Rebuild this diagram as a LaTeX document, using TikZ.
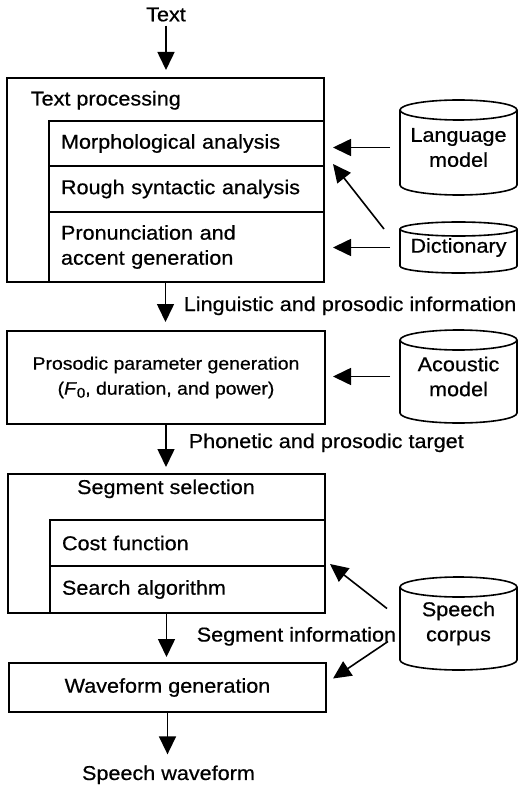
\documentclass[tikz,border=0pt]{standalone}
\usepackage{fontspec}
\setmainfont{Liberation Sans}[FakeStretch=1.08, FakeBold=0.6]
\usetikzlibrary{arrows.meta, positioning}

\begin{document}
\begin{tikzpicture}[x=1pt, y=-1pt, line width=1.6pt,
    font=\fontsize{20}{25}\selectfont,
    box/.style={draw, rectangle, anchor=north west, inner sep=0pt, outer sep=0pt},
    row/.style={box, minimum width=275pt, text width=251pt, inner xsep=12pt, align=left},
    db/.style={rectangle, inner sep=0pt, outer sep=0pt, minimum width=117pt, align=center},
    lbl/.style={anchor=base west, inner sep=0pt},
    flow/.style={-{Triangle[length=18pt,width=17pt]}}]
    \useasboundingbox (0,0) rectangle (518,786);

    % Text processing block
    \node (txt) at (166,14.5) {Text};
    \node[box, minimum width=317pt, minimum height=204pt] (tp) at (7,78) {};
    \node[lbl] (tpl) at (30,105.5) {Text processing};
    \node[row, minimum height=45pt] (ma) at (49,121) {Morphological analysis};
    \node[row, minimum height=46pt] (rsa) at (49,166) {Rough syntactic analysis};
    \node[row, minimum height=70pt] (pag) at (49,212) {Pronunciation and\\accent generation};

    % Prosody block
    \node[box, minimum width=318pt, minimum height=93pt, align=center,
          font=\fontsize{18}{25}\selectfont] (pp) at (7,331)
          {Prosodic parameter generation\\(\textit{F}\raisebox{-3pt}{\fontsize{14}{14}\selectfont 0}, duration, and power)};

    % Segment selection block
    \node[box, minimum width=317pt, minimum height=139pt] (ss) at (8,474) {};
    \node[anchor=base, inner sep=0pt] (ssl) at (166,494) {Segment selection};
    \node[row, minimum height=46pt] (cf) at (50,520) {Cost function};
    \node[row, minimum height=47pt] (sa) at (50,566) {Search algorithm};

    % Waveform block
    \node[box, minimum width=317pt, minimum height=49pt] (wg) at (9,663) {Waveform generation};
    \node (sw) at (168.5,774.8) {Speech waveform};

    % Databases
    \node[db, minimum height=75pt] (lm) at (458.5,147.5) {Language\\model};
    \node[db, minimum height=37pt] (dc) at (458.5,247.5) {Dictionary};
    \node[db, minimum height=73pt] (ac) at (458.5,376.5) {Acoustic\\model};
    \node[db, minimum height=73pt] (sc) at (458.5,623.5) {Speech\\corpus};
    \foreach \c/\r in {lm/10, dc/7, ac/10, sc/10} {
        \draw (\c.north west) -- (\c.south west)
            arc[start angle=180, end angle=0, x radius=58.5, y radius=\r] -- (\c.north east);
        \draw (\c.north) ellipse[x radius=58.5, y radius=\r];
    }

    % Main flow
    \draw[flow, shorten >=8pt] (txt.south) -- (txt.south |- tp.north);
    \draw[flow, shorten >=9pt] (tp.south) -- (tp.south |- pp.north);
    \draw[flow, shorten >=7pt] (pp.south) -- (pp.south |- ss.north);
    \draw[flow, shorten >=6pt] (ss.south) -- (ss.south |- wg.north);
    \draw[flow, shorten >=7pt] (wg.south) -- (wg.south |- sw.north);
    \node[lbl] (lpi) at (183,311) {Linguistic and prosodic information};
    \node[lbl] (ppt) at (188,448) {Phonetic and prosodic target};
    \node[lbl] (sgi) at (196,641.5) {Segment information};

    % Database inputs
    \draw[flow, shorten <=10pt, shorten >=9pt] (lm.west) -- (lm.west -| tp.east);
    \draw[flow] ([xshift=-16pt]dc.north west) -- ([shift={(9,-2)}]rsa.north east);
    \draw[flow, shorten <=10pt, shorten >=9pt] (dc.west) -- (dc.west -| tp.east);
    \draw[flow, shorten <=10pt, shorten >=8pt] (ac.west) -- (ac.west -| pp.east);
    \draw[flow] ([shift={(-13,-15)}]sc.west) -- ([shift={(5,-2)}]sa.north east);
    \draw[flow] ([shift={(-12,18)}]sc.west) -- ([shift={(7,-9)}]wg.east);

\end{tikzpicture}
\end{document}
